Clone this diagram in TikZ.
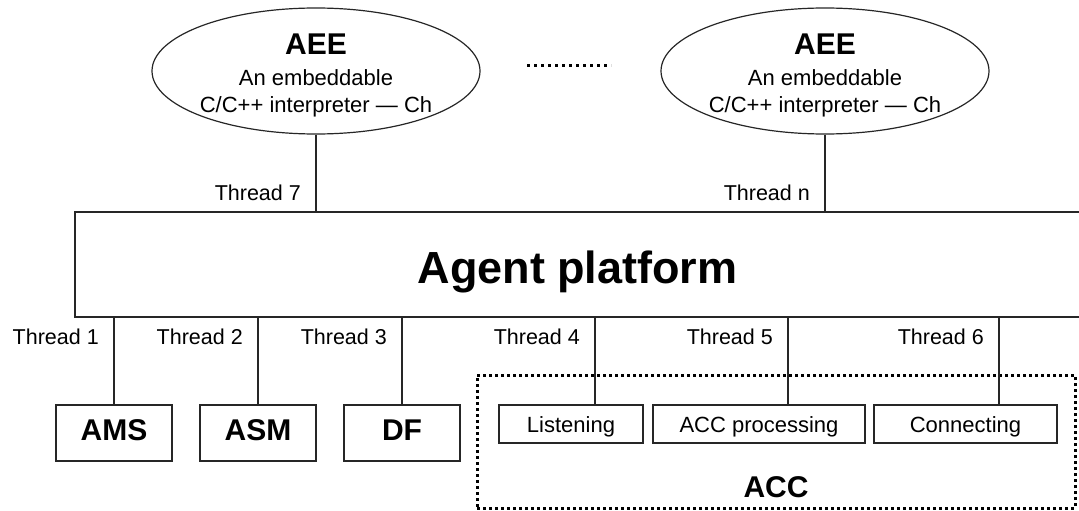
\documentclass[tikz,border=0pt]{standalone}
\usepackage{fontspec}
\setmainfont{Liberation Sans}
\usetikzlibrary{shapes.geometric}
\tikzstyle{link} = [line width=1.3pt,draw=black!85]

\begin{document}
\begin{tikzpicture}
        [
            x=1pt, y=-1pt,
            aee/.style={ellipse,draw=black!85,line width=1.2pt,minimum width=328pt,minimum height=126pt,inner sep=0pt},
            box/.style={rectangle,draw=black!85,line width=1.3pt,minimum width=116pt,minimum height=56pt,inner sep=0pt,text height=21pt,text depth=6pt,font=\fontsize{30}{30}\selectfont\bfseries},
            sub/.style={rectangle,draw=black!85,line width=1.3pt,minimum height=38pt,inner sep=0pt,text height=16pt,text depth=0pt,font=\fontsize{22}{22}\selectfont},
            thread/.style={anchor=base east,inner sep=0pt,font=\fontsize{21.5}{21.5}\selectfont},
            big/.style={anchor=base,inner sep=0pt,font=\fontsize{30}{30}\selectfont\bfseries},
            small/.style={anchor=base,inner sep=0pt,font=\fontsize{22}{22}\selectfont},
            dots/.style={draw=black,line width=3pt,dash pattern=on 3pt off 4pt},
        ]

    \useasboundingbox (0,0) rectangle (1079,511);

    % the platform box runs past the right edge
    \node[rectangle,draw=black!85,line width=1.3pt,minimum width=1007pt,minimum height=105pt,inner sep=0pt] (platform) at (578.5,264.5) {};
    \node[anchor=base,inner sep=0pt,font=\fontsize{45}{45}\selectfont\bfseries] (ptext) at (577.5,283) {Agent platform};

    % AEE on top
    \foreach \x/\i/\t in {316/1/7,825/2/n}{
        \node[aee] (aee\i) at (\x,71) {};
        \node[big] (aeet\i) at (\x,55) {AEE};
        \node[small] (aeea\i) at (\x,85) {An embeddable};
        \node[small] (aeeb\i) at (\x,112) {C/C++ interpreter --- Ch};
        \draw[link] (aee\i.south) -- (aee\i.south |- platform.north);
        \node[thread] (th\t) at (\x-15,200) {Thread \t};
    }
    \draw[dots] (527,66) -- (611,66);

    % AMS, ASM, DF
    \foreach \x/\t/\b in {114/1/AMS,258/2/ASM,402/3/DF}{
        \node[box] (\b) at (\x,433) {\b};
        \draw[link] (platform.south -| \b.north) -- (\b.north);
        \node[thread] (th\t) at (\x-15,344) {Thread \t};
    }

    % ACC
    \node[rectangle,draw=black,line width=3pt,dash pattern=on 3pt off 3pt,minimum width=598pt,minimum height=133pt,inner sep=0pt] (acc) at (776,441.5) {};
    \node[big] (acct) at (776,497) {ACC};
    \foreach \x/\w/\n/\l/\t/\lx in {571/144/lis/Listening/4/595,759/212/pro/ACC processing/5/788,965.5/183/con/Connecting/6/999}{
        \node[sub,minimum width=\w pt] (\n) at (\x,424) {\l};
        \coordinate (c\t) at (\lx,0);
        \draw[link] (c\t |- platform.south) -- (c\t |- \n.north);
        \node[thread] (th\t) at (\lx-15,344) {Thread \t};
    }
\end{tikzpicture}
\end{document}
